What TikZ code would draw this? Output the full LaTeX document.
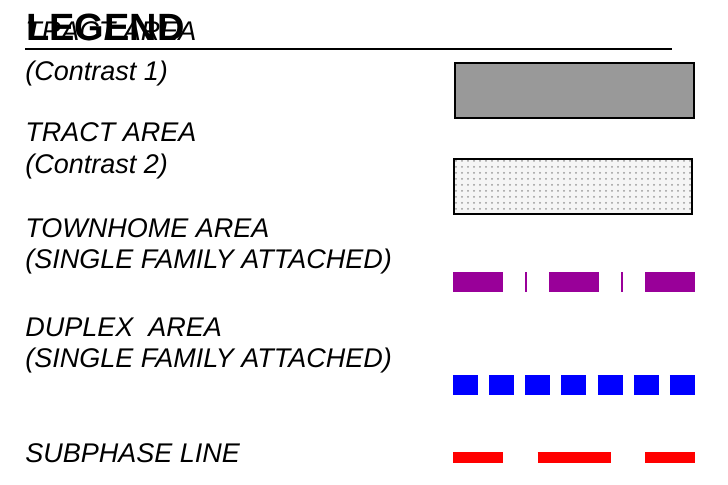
\documentclass[tikz,border=0pt]{standalone}
\usepackage{fontspec}
\setmainfont{Liberation Sans}
\usetikzlibrary{patterns}
\definecolor{thpurple}{HTML}{990099}
\definecolor{areagray}{HTML}{999999}
\begin{document}
\begin{tikzpicture}[x=0.5pt,y=-0.5pt,
  lbl/.style={anchor=base west,inner sep=0,font=\fontsize{13.5}{15}\selectfont\itshape},
  ttl/.style={anchor=base west,inner sep=0,font=\fontsize{19}{20}\selectfont\bfseries}]
\useasboundingbox (0,0) rectangle (728,485);
\node[lbl] (t1) at (25,41) {TRACT AREA};
\node[ttl] (lg) at (26,41) {LEGEND};
\coordinate (ul1) at (25,49);
\coordinate (ul2) at (672,49);
\draw[line width=0.7pt] (ul1)--(ul2);
\node[lbl] (c1) at (25,81) {(Contrast 1)};
\node[lbl] (t2) at (25,142) {TRACT AREA};
\node[lbl] (c2) at (25,174) {(Contrast 2)};
\node[lbl] (th) at (25,238) {TOWNHOME AREA};
\node[lbl] (sf1) at (25,269) {(SINGLE FAMILY ATTACHED)};
\node[lbl] (dp) at (25,337) {DUPLEX\ \ AREA};
\node[lbl] (sf2) at (25,368) {(SINGLE FAMILY ATTACHED)};
\node[lbl] (sp) at (25,463) {SUBPHASE LINE};
% area samples
\draw[line width=0.8pt,fill=areagray] (455,63) rectangle (694,118);
\fill[gray!8] (454,159) rectangle (692,214);
\fill[pattern=dots,pattern color=gray!80] (454,159) rectangle (692,214);
\draw[line width=0.8pt] (454,159) rectangle (692,214);
% line samples
\coordinate (p1) at (453,282);
\coordinate (p2) at (695,282);
\draw[thpurple,line width=10pt,dash pattern=on 25pt off 11pt on 1pt off 11pt] (p1)--(p2);
\coordinate (b1) at (453,385);
\coordinate (b2) at (695,385);
\draw[blue,line width=10pt,dash pattern=on 12.5pt off 5.58pt] (b1)--(b2);
\coordinate (r1) at (453,458);
\coordinate (r2) at (695,458);
\draw[red,line width=5.5pt,dash pattern=on 25pt off 17.25pt on 36.5pt off 17.25pt] (r1)--(r2);
\end{tikzpicture}
\end{document}
